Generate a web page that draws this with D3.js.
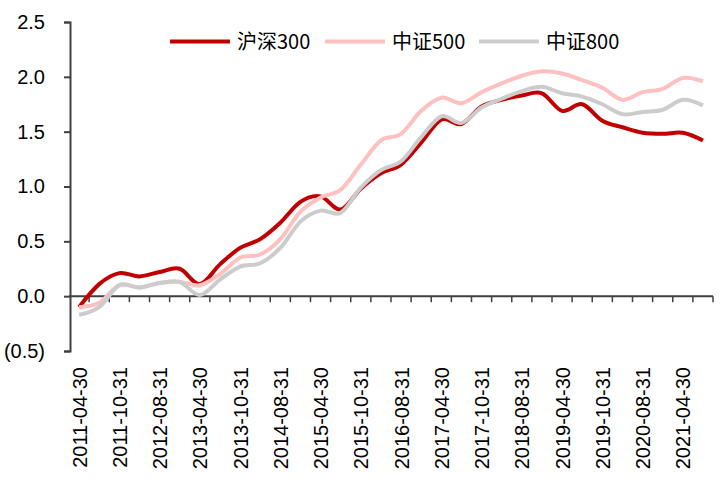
<!DOCTYPE html>
<html><head><meta charset="utf-8">
<script src="https://cdn.jsdelivr.net/npm/d3@7"></script>
<style>body{margin:0;background:#fff}svg{display:block}</style>
</head><body><svg id="c" width="720" height="480"></svg>
<script>
const categories = ["2011-04-30","2011-08-31","2011-10-31","2012-04-30","2012-08-31","2012-10-31",
"2013-04-30","2013-08-31","2013-10-31","2014-04-30","2014-08-31","2014-10-31",
"2015-04-30","2015-08-31","2015-10-31","2016-04-30","2016-08-31","2016-10-31",
"2017-04-30","2017-08-31","2017-10-31","2018-04-30","2018-08-31","2018-10-31",
"2019-04-30","2019-08-31","2019-10-31","2020-04-30","2020-08-31","2020-10-31",
"2021-04-30","2021-08-31"];
const hs300 = [-0.10,0.11,0.21,0.18,0.22,0.25,0.11,0.29,0.44,0.52,0.67,0.86,0.91,0.79,0.98,1.12,
1.20,1.40,1.61,1.57,1.73,1.79,1.83,1.85,1.69,1.75,1.60,1.54,1.49,1.48,1.49,1.42];
const zz500 = [-0.10,-0.06,0.10,0.08,0.12,0.13,0.10,0.20,0.35,0.38,0.52,0.77,0.90,0.97,1.20,1.42,
1.48,1.69,1.81,1.76,1.86,1.94,2.01,2.05,2.03,1.97,1.90,1.79,1.86,1.89,1.99,1.96];
const zz800 = [-0.17,-0.10,0.10,0.08,0.12,0.13,0.01,0.15,0.27,0.30,0.44,0.68,0.78,0.76,0.99,1.15,
1.23,1.45,1.64,1.58,1.72,1.80,1.87,1.91,1.85,1.82,1.75,1.66,1.68,1.70,1.79,1.74];
const seriesNames = ["沪深300","中证500","中证800"];
const yTicks = [-0.5,0,0.5,1.0,1.5,2.0,2.5];
const xLabelEvery = 2;

const colors = ["#C00000","#FFC0C0","#CCCCCC"];
const svg = d3.select("#c");
const font = "'Liberation Sans', Arial, sans-serif";
const x = d3.scaleBand().domain(categories).range([69, 713]).paddingInner(0).paddingOuter(0);
const y = d3.scaleLinear().domain([-0.5, 2.5]).range([351, 22]);
const fmt = v => v < 0 ? "(" + d3.format(".1f")(-v) + ")" : d3.format(".1f")(v);

// y axis
const ya = svg.append("g").attr("transform","translate(70,0)")
  .call(d3.axisLeft(y).tickValues(yTicks).tickFormat(fmt).tickSize(6).tickPadding(19));
ya.select(".domain").attr("stroke","#404040").attr("stroke-width",2);
ya.selectAll(".tick line").attr("stroke","#404040").attr("stroke-width",2);
ya.selectAll("text").attr("font-family",font).attr("font-size",20).attr("fill","#000");

// x axis line at zero with ticks at band boundaries
const xa = svg.append("g").attr("transform","translate(0," + y(0) + ")");
xa.append("line").attr("x1",69).attr("x2",713).attr("stroke","#404040").attr("stroke-width",2);
const bounds = categories.map(c => x(c) + x.bandwidth());
xa.selectAll("line.t").data(bounds).enter().append("line").attr("class","t")
  .attr("x1",d=>d).attr("x2",d=>d).attr("y1",0).attr("y2",6)
  .attr("stroke","#404040").attr("stroke-width",1.5);

// x labels at bottom
svg.append("g").selectAll("text").data(categories.filter((c,i)=>i%xLabelEvery===0)).enter()
  .append("text")
  .attr("transform", d => "translate(" + (x(d)+x.bandwidth()/2 + 7.5) + ",367) rotate(-90)")
  .attr("text-anchor","end").attr("font-family",font).attr("font-size",20).attr("fill","#000")
  .text(d=>d);

// lines
const data = [hs300, zz500, zz800];
const line = d3.line().x((d,i)=>x(categories[i]) + x.bandwidth()/2).y(d=>y(d))
  .curve(d3.curveCatmullRom.alpha(0));
data.forEach((s,k)=>{
  svg.append("path").datum(s).attr("d",line).attr("fill","none")
    .attr("stroke",colors[k]).attr("stroke-width",4).attr("stroke-linejoin","round");
});

// legend
const legX = [170, 325, 479];
const lg = svg.append("g");
seriesNames.forEach((n,k)=>{
  lg.append("line").attr("x1",legX[k]).attr("x2",legX[k]+60).attr("y1",41.5).attr("y2",41.5)
    .attr("stroke",colors[k]).attr("stroke-width",4);
  lg.append("text").attr("x",legX[k]+67).attr("y",48.5).attr("font-family","'Noto Sans CJK SC', " + font)
    .attr("font-size",20).attr("fill","#000").text(n);
});
</script></body></html>
